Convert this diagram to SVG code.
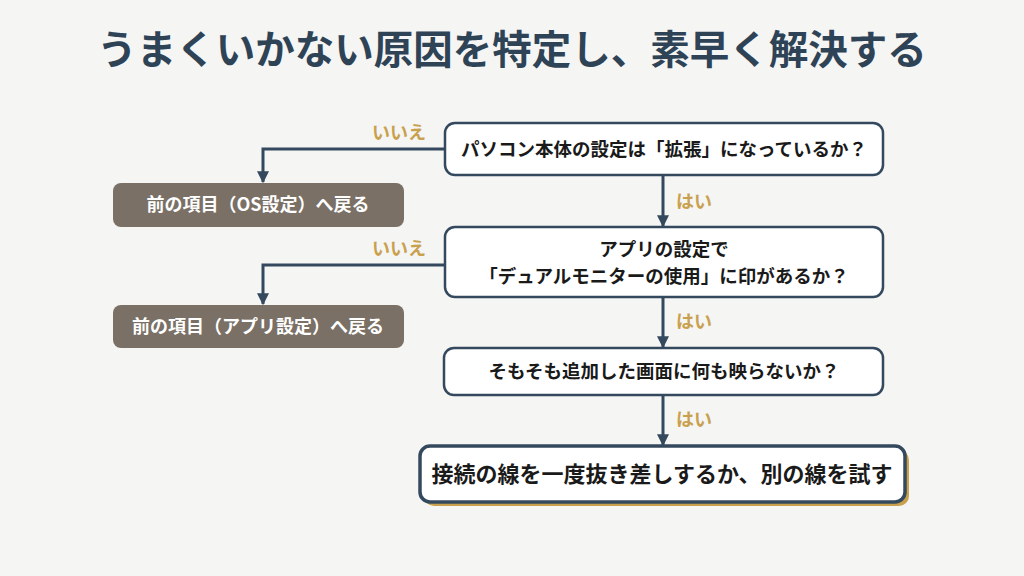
<svg xmlns="http://www.w3.org/2000/svg" width="1024" height="576" viewBox="0 0 1024 576">
<style>
text{font-family:"Noto Sans CJK JP","Noto Sans",sans-serif;font-weight:700}
.q{fill:#ffffff;stroke:#34495e;stroke-width:2.5}
.qt{fill:#1a1a1a;font-size:18.5px;text-anchor:middle}
.g{fill:#7a7066}
.gt{fill:#ffffff;font-size:18px;text-anchor:middle}
.lbl{fill:#c9a14e;font-size:18px}
.c{fill:none;stroke:#34495e;stroke-width:3}
</style>
<defs>
<marker id="ah" viewBox="0 0 10 10" refX="9" refY="5" markerWidth="4" markerHeight="4" orient="auto" markerUnits="strokeWidth">
<path d="M0,0 L10,5 L0,10 z" fill="#34495e"/>
</marker>
</defs>
<rect width="1024" height="576" fill="#f5f5f4"/>
<text x="512" y="64" font-size="39.5" text-anchor="middle" fill="#2f4356">うまくいかない原因を特定し、素早く解決する</text>
<g id="connectors">
<path class="c" d="M445,149 H263 V182" marker-end="url(#ah)"/>
<path class="c" d="M445,265 H263 V304" marker-end="url(#ah)"/>
<path class="c" d="M663,175 V226" marker-end="url(#ah)"/>
<path class="c" d="M663,297 V347" marker-end="url(#ah)"/>
<path class="c" d="M663,395 V445" marker-end="url(#ah)"/>
<text class="lbl" x="372" y="139">いいえ</text>
<text class="lbl" x="372" y="255">いいえ</text>
<text class="lbl" x="676" y="208">はい</text>
<text class="lbl" x="676" y="328">はい</text>
<text class="lbl" x="676" y="426">はい</text>
</g>
<g id="q1">
<rect class="q" x="445" y="123" width="438" height="52" rx="10"/>
<text class="qt" x="664" y="156">パソコン本体の設定は「拡張」になっているか？</text>
</g>
<g id="q2">
<rect class="q" x="445" y="227" width="438" height="70" rx="10"/>
<text class="qt" x="664" y="256">アプリの設定で</text>
<text class="qt" x="664" y="283">「デュアルモニターの使用」に印があるか？</text>
</g>
<g id="q3">
<rect class="q" x="444" y="348" width="439" height="47" rx="10"/>
<text class="qt" x="664" y="378">そもそも追加した画面に何も映らないか？</text>
</g>
<g id="final">
<rect x="424" y="450" width="485" height="56" rx="10" fill="#c9a14e"/>
<rect x="420" y="446" width="485" height="56" rx="10" fill="#ffffff" stroke="#34495e" stroke-width="3.5"/>
<text x="662" y="482" font-size="22" text-anchor="middle" fill="#1a1a1a">接続の線を一度抜き差しするか、別の線を試す</text>
</g>
<g id="backOS">
<rect class="g" x="113" y="183" width="291" height="44" rx="8"/>
<text class="gt" x="258" y="211">前の項目（OS設定）へ戻る</text>
</g>
<g id="backApp">
<rect class="g" x="113" y="305" width="291" height="43" rx="8"/>
<text class="gt" x="258" y="333">前の項目（アプリ設定）へ戻る</text>
</g>
</svg>
